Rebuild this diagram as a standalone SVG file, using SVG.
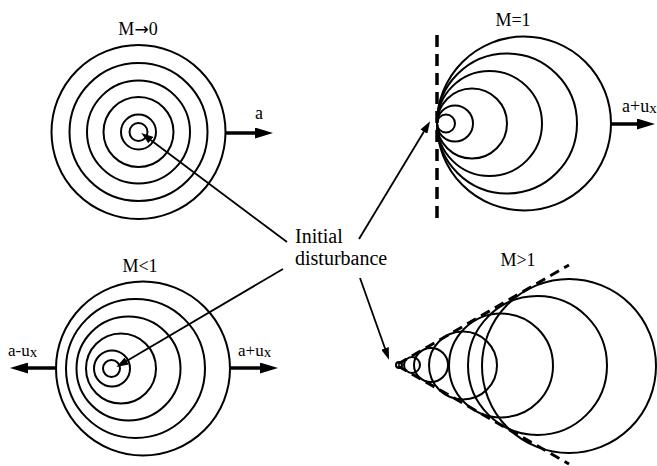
<svg xmlns="http://www.w3.org/2000/svg" width="657" height="466" viewBox="0 0 657 466">
<style>
  .w{fill:none;stroke:#000;stroke-width:2}
  .t{font-family:"Liberation Serif","Times New Roman",serif;fill:#000}
  .lbl{font-size:18px;text-anchor:middle}
  .big{font-size:20px}
  .sm{font-size:17px}
  .thick{stroke:#000;stroke-width:3.5;fill:none}
  .ptr{stroke:#000;stroke-width:1.8;fill:none}
  .dash{stroke:#000;stroke-width:3.5;fill:none;stroke-dasharray:12 7}
  .dash2{stroke:#000;stroke-width:3;fill:none;stroke-dasharray:10 6}
</style>
<defs>
  <marker id="bigHead" markerUnits="userSpaceOnUse" markerWidth="18" markerHeight="11" refX="10" refY="5.5" orient="auto">
    <path d="M0,0 L18,5.5 L0,11 z" fill="#000"/>
  </marker>
  <marker id="ptrHead" markerUnits="userSpaceOnUse" markerWidth="12" markerHeight="8" refX="6" refY="4" orient="auto">
    <path d="M0,0 L12,4 L0,8 z" fill="#000"/>
  </marker>
</defs>
<rect width="657" height="466" fill="#fff"/>

<g id="panel-m0">
  <text class="t lbl" x="138" y="35">M<tspan font-family="DejaVu Sans, sans-serif" font-size="17">→</tspan>0</text>
  <circle class="w" cx="138.5" cy="132" r="87"/>
  <circle class="w" cx="138.5" cy="132" r="69"/>
  <circle class="w" cx="138.5" cy="132" r="51.5"/>
  <circle class="w" cx="138.5" cy="132" r="35"/>
  <circle class="w" cx="138.5" cy="132" r="17.5"/>
  <circle class="w" cx="138.5" cy="132" r="9"/>
  <line class="thick" x1="225.5" y1="133" x2="265" y2="133" marker-end="url(#bigHead)"/>
  <text class="t lbl" x="259" y="119">a</text>
</g>

<g id="panel-m1">
  <text class="t lbl" x="513" y="26">M=1</text>
  <line class="dash" x1="437" y1="35" x2="437" y2="219"/>
  <circle class="w" cx="446" cy="123.5" r="9"/>
  <circle class="w" cx="455" cy="123.5" r="18"/>
  <circle class="w" cx="472" cy="123.5" r="35"/>
  <circle class="w" cx="489.5" cy="123.5" r="52.5"/>
  <circle class="w" cx="507" cy="123.5" r="70"/>
  <circle class="w" cx="524" cy="123.5" r="87"/>
  <line class="thick" x1="611" y1="124" x2="647" y2="124" marker-end="url(#bigHead)"/>
  <text class="t" font-size="18" x="622" y="112">a+u<tspan font-size="15" dy="1">x</tspan></text>
</g>

<g id="panel-mlt1">
  <text class="t lbl" x="140" y="272">M&lt;1</text>
  <circle class="w" cx="143" cy="368.5" r="87"/>
  <circle class="w" cx="135.5" cy="368.5" r="69.5"/>
  <circle class="w" cx="128.5" cy="368.5" r="52"/>
  <circle class="w" cx="121" cy="368.5" r="35"/>
  <circle class="w" cx="112" cy="368.5" r="18"/>
  <circle class="w" cx="111.5" cy="368.5" r="8.5"/>
  <line class="thick" x1="56" y1="368" x2="18" y2="368" marker-end="url(#bigHead)"/>
  <line class="thick" x1="230" y1="368" x2="270" y2="368" marker-end="url(#bigHead)"/>
  <text class="t sm" x="8" y="356">a-u<tspan font-size="15" dy="1">x</tspan></text>
  <text class="t sm" x="238" y="356">a+u<tspan font-size="15" dy="1">x</tspan></text>
</g>

<g id="panel-mgt1">
  <text class="t lbl" x="518" y="266">M&gt;1</text>
  <line class="dash2" x1="398" y1="364" x2="569" y2="265"/>
  <line class="dash2" x1="398" y1="366" x2="569" y2="464"/>
  <circle class="w" cx="399" cy="365" r="3"/>
  <circle class="w" cx="412" cy="365" r="8"/>
  <circle class="w" cx="431" cy="365" r="17"/>
  <circle class="w" cx="463" cy="365.5" r="34"/>
  <circle class="w" cx="501" cy="365.5" r="52"/>
  <circle class="w" cx="537.5" cy="365.5" r="69.5"/>
  <circle class="w" cx="569" cy="366" r="87"/>
</g>

<g id="label-initial">
  <text class="t big" x="295" y="243">Initial</text>
  <text class="t big" x="295" y="265">disturbance</text>
</g>

<g id="connectors">
  <line class="ptr" x1="287" y1="242" x2="146" y2="136.5" marker-end="url(#ptrHead)"/>
  <line class="ptr" x1="359" y1="239" x2="427" y2="126.5" marker-end="url(#ptrHead)"/>
  <line class="ptr" x1="283" y1="269" x2="121.5" y2="364" marker-end="url(#ptrHead)"/>
  <line class="ptr" x1="360" y1="278" x2="387" y2="354" marker-end="url(#ptrHead)"/>
</g>
</svg>
